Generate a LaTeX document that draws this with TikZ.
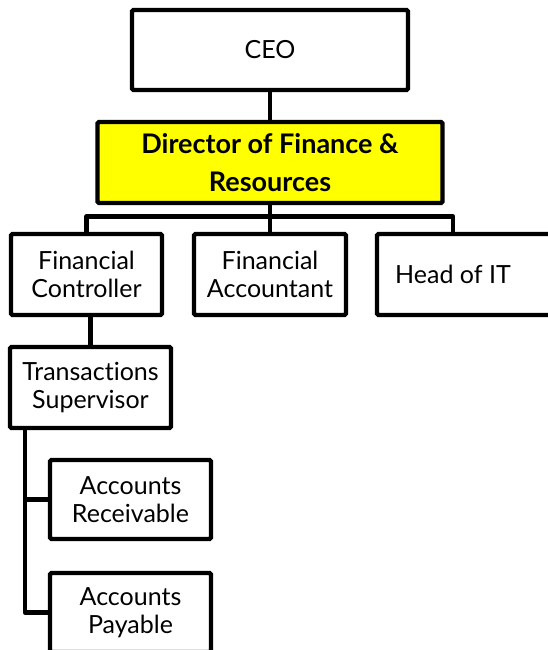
\documentclass[tikz,border=0pt]{standalone}
\usepackage{fontspec}
\setmainfont{Lato}[Ligatures={NoCommon,NoRare}]
\definecolor{leadfill}{RGB}{255,255,0}
\begin{document}
\begin{tikzpicture}[x=1pt,y=-1pt,
  box/.style={draw=black,line width=4.3pt,rounded corners=1.5pt,fill=white,
    inner sep=0pt,align=center,font=\fontsize{25}{28}\selectfont},
  lead/.style={box,fill=leadfill,font=\bfseries\fontsize{27}{38}\selectfont},
  label/.style={inner sep=0pt,align=center,font=\fontsize{25}{28}\selectfont},
  link/.style={draw=black,line width=4.3pt,line join=round}]
\useasboundingbox (0,0) rectangle (548,650);
\clip (0,0) rectangle (548,650);

% top of the chart
\node[box,minimum width=276pt,minimum height=80pt] (ceo) at (270,50) {CEO};
\node[lead,minimum width=345pt,minimum height=81pt] (dir) at (270,162.5)
  {Director of Finance \&\\Resources};

% direct reports
\node[box,minimum width=151pt,minimum height=81pt] (fc) at (86.5,274.5)
  {Financial\\Controller};
\node[box,minimum width=152pt,minimum height=81pt] (fa) at (270,274.5)
  {Financial\\Accountant};
\node[box,minimum width=183pt,minimum height=81pt] (hit) at (468.5,274.5) {};
\node[label] (hitlabel) at (453,274.5) {Head of IT};

% transactions team
\node[box,minimum width=161pt,minimum height=81pt] (ts) at (90.5,387.5)
  {Transactions\\Supervisor};
\node[box,minimum width=161pt,minimum height=79pt] (ar) at (130.5,499.5)
  {Accounts\\Receivable};
\node[box,minimum width=161pt,minimum height=79pt] (ap) at (130.5,612.5)
  {Accounts\\Payable};
\coordinate (tsdrop) at ([xshift=17pt]ts.south west);

% connectors
\draw[link] (ceo.south) -- (dir.north);
\draw[link] (dir.south) -- (fa.north);
\draw[link] (fc.north) -- ++(0,-15.5) -| (hitlabel |- hit.north);
\draw[link] (ts.north) -- (ts.north |- fc.south);
\draw[link] (tsdrop) |- (ar.west);
\draw[link] (tsdrop) |- (ap.west);
\end{tikzpicture}
\end{document}
